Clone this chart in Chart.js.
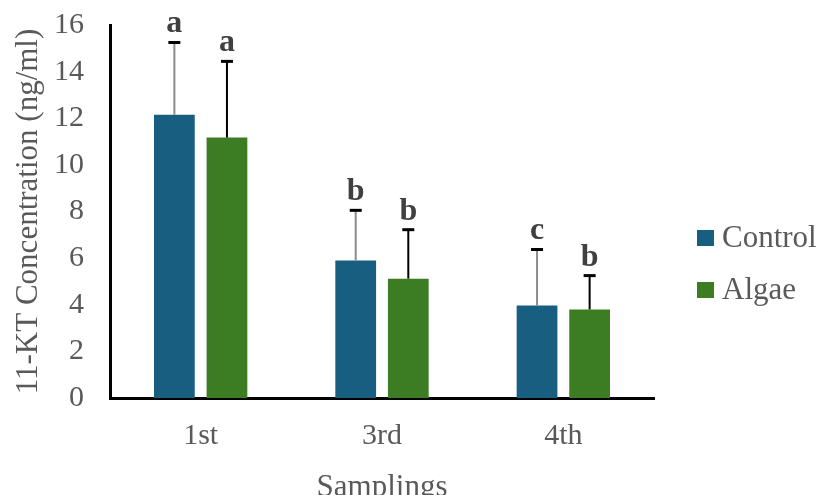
<!DOCTYPE html>
<html>
<head>
<meta charset="utf-8">
<script src="https://cdn.jsdelivr.net/npm/chart.js@4.4.1/dist/chart.umd.min.js"></script>
<style>
    html, body { margin: 0; padding: 0; background: #fff; }
    #wrap { width: 820px; height: 495px; }
</style>
</head>
<body>
<div id="wrap"><canvas id="chart" width="820" height="495"></canvas></div>
<script>
// данные
const samplings = ["1st", "3rd", "4th"];
const seriesNames = ["Control", "Algae"];
const controlMean = [12.15, 5.9, 3.97];
const algaeMean = [11.17, 5.12, 3.8];
const controlSD = [3.1, 2.15, 2.4];
const algaeSD = [3.27, 2.1, 1.45];
const controlLetters = ["a", "b", "c"];
const algaeLetters = ["a", "b", "b"];
const yTicks = [0, 2, 4, 6, 8, 10, 12, 14, 16];

const colors = ["#185e80", "#3c7d24"];
const errColors = ["#8c8c8c", "#000000"];
const FONT = "'Liberation Serif', 'Times New Roman', serif";
const TXT = "#595959";

const extras = [
    { sd: controlSD, letters: controlLetters },
    { sd: algaeSD, letters: algaeLetters }
];

// планки погрешностей + буквы над ними
const errorBarsPlugin = {
    id: "errorBars",
    afterDatasetsDraw(chart) {
        const ctx = chart.ctx;
        const y = chart.scales.y;
        chart.data.datasets.forEach((ds, di) => {
            const meta = chart.getDatasetMeta(di);
            meta.data.forEach((bar, i) => {
                const top = y.getPixelForValue(ds.data[i] + extras[di].sd[i]);
                const base = y.getPixelForValue(ds.data[i]);
                ctx.save();
                ctx.strokeStyle = errColors[di];
                ctx.lineWidth = 2;
                ctx.beginPath();
                ctx.moveTo(bar.x, base);
                ctx.lineTo(bar.x, top);
                ctx.stroke();
                ctx.strokeStyle = "#000";
                ctx.lineWidth = 3;
                ctx.beginPath();
                ctx.moveTo(bar.x - 6, top);
                ctx.lineTo(bar.x + 6, top);
                ctx.stroke();
                ctx.fillStyle = "#404040";
                ctx.font = "bold 32px " + FONT;
                ctx.textAlign = "center";
                ctx.textBaseline = "alphabetic";
                ctx.fillText(extras[di].letters[i], bar.x, top - 10);
                ctx.restore();
            });
        });
    }
};

// легенда справа
const sideLegendPlugin = {
    id: "sideLegend",
    afterDraw(chart) {
        const ctx = chart.ctx;
        ctx.save();
        ctx.font = "31px " + FONT;
        ctx.textBaseline = "middle";
        ctx.textAlign = "left";
        chart.data.datasets.forEach((ds, di) => {
            const cy = 238 + di * 52;
            ctx.fillStyle = ds.backgroundColor;
            ctx.fillRect(697, cy - 8, 17, 16);
            ctx.fillStyle = TXT;
            ctx.fillText(ds.label, 722, cy + 1);
        });
        ctx.restore();
    }
};

new Chart(document.getElementById("chart"), {
    type: "bar",
    data: {
        labels: samplings,
        datasets: [
            { label: seriesNames[0], data: controlMean, backgroundColor: colors[0] },
            { label: seriesNames[1], data: algaeMean, backgroundColor: colors[1] }
        ]
    },
    options: {
        responsive: false,
        animation: false,
        categoryPercentage: 0.58,
        barPercentage: 0.775,
        layout: { padding: { top: 25, right: 166, left: 0, bottom: 0 } },
        plugins: {
            legend: { display: false },
            tooltip: { enabled: false }
        },
        scales: {
            x: {
                grid: { display: false, drawTicks: false },
                border: { display: true, color: "#000", width: 3 },
                ticks: { color: TXT, font: { family: FONT, size: 30 }, padding: 20 },
                title: { display: true, text: "Samplings", color: TXT, font: { family: FONT, size: 31 }, padding: { top: 0, bottom: -11 } },
                afterFit(scale) { scale.height = 97; }
            },
            y: {
                min: 0,
                max: 16,
                afterBuildTicks(scale) { scale.ticks = yTicks.map(v => ({ value: v })); },
                grid: { display: false, drawTicks: false },
                border: { display: true, color: "#000", width: 3 },
                ticks: { color: TXT, font: { family: FONT, size: 30 }, padding: 26 },
                title: { display: true, text: "11-KT Concentration (ng/ml)", color: TXT, font: { family: FONT, size: 31 }, padding: { top: 10, bottom: 0 } },
                afterFit(scale) {
                    scale.width = 110;
                    // верхний отступ задаём сами через layout.padding
                    scale.paddingTop = 0;
                    scale.paddingBottom = 0;
                }
            }
        }
    },
    plugins: [errorBarsPlugin, sideLegendPlugin]
});
</script>
</body>
</html>
